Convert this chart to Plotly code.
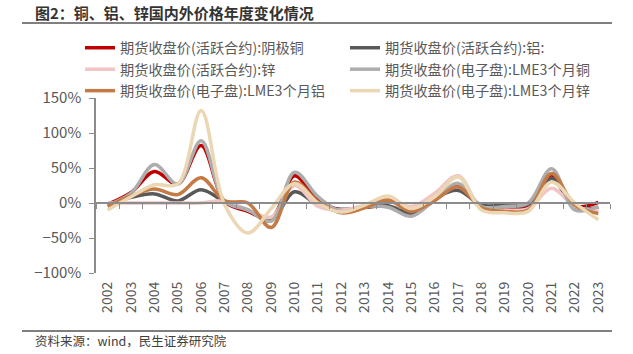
import plotly.graph_objects as go

years = [str(y) for y in range(2002, 2024)]

names = [
    "期货收盘价(活跃合约):阴极铜",
    "期货收盘价(活跃合约):铝:",
    "期货收盘价(活跃合约):锌",
    "期货收盘价(电子盘):LME3个月铜",
    "期货收盘价(电子盘):LME3个月铝",
    "期货收盘价(电子盘):LME3个月锌",
]

shfe_cu = [-2, 15, 45, 27, 82, 2, -12, -22, 39, 4, -10, -6, -5, -17, 4, 25, -5, -9, -5, 40, -4, 1]
shfe_al = [-3, 8, 13, 3, 19, 2, -10, -24, 16, -3, -9, -6, -4, -14, 7, 18, -3, -3, -2, 35, -7, -6]
shfe_zn = [0, 0, 0, 0, 0, 3, -10, -20, 25, -5, -10, -3, 5, -5, 14, 39, -8, -10, -8, 21, -5, -10]
lme_cu = [-3, 14, 55, 27, 89, 3, -10, -26, 44, 9, -12, -5, -6, -19, 5, 28, -5, -5, 0, 49, -10, -5]
lme_al = [-5, 10, 20, 12, 36, 3, 0, -35, 30, 2, -14, -7, 4, -12, 4, 23, -7, -12, -10, 42, -3, -15]
lme_zn = [-10, 9, 26, 27, 132, -2, -43, -8, 28, 0, -13, -3, 10, -8, 9, 37, -10, -14, -12, 30, 0, -24]

series = [shfe_cu, shfe_al, shfe_zn, lme_cu, lme_al, lme_zn]
colors = ["#C00000", "#595959", "#F2C4C4", "#ADADAD", "#C47A45", "#EBD7B4"]
legends = ["legend", "legend2", "legend", "legend2", "legend", "legend2"]

FONT = "Noto Sans CJK SC"
TXT = "#595959"

fig = go.Figure()
for name, vals, col, lg in zip(names, series, colors, legends):
    fig.add_trace(go.Scatter(
        x=years, y=vals, name=name, mode="lines",
        line=dict(color=col, width=3.5, shape="spline", smoothing=1.0),
        legend=lg,
    ))

# helper trace so the zero-line axis (xaxis2) is drawn
fig.add_trace(go.Scatter(x=years, y=[None] * len(years), xaxis="x2",
                         showlegend=False, hoverinfo="skip", mode="lines"))

W, H = 633, 354
L, R, T, B = 96, 23, 98, 81

fig.update_layout(
    width=W, height=H,
    margin=dict(l=L, r=R, t=T, b=B, autoexpand=False),
    paper_bgcolor="white", plot_bgcolor="white",
    font=dict(family=FONT, color=TXT, size=14),
    showlegend=True,
    title=dict(
        text="<b>图2：铜、铝、锌国内外价格年度变化情况</b>",
        x=35 / W, xref="container", xanchor="left",
        y=1 - 14 / H, yref="container", yanchor="middle",
        font=dict(family=FONT, size=15, color="#333333"),
    ),
    legend=dict(
        xref="container", yref="container",
        x=80 / W, y=1 - 32 / H, xanchor="left", yanchor="top",
        orientation="v", font=dict(size=14.2, color=TXT),
        bgcolor="rgba(0,0,0,0)", tracegroupgap=0,
    ),
    legend2=dict(
        xref="container", yref="container",
        x=345 / W, y=1 - 32 / H, xanchor="left", yanchor="top",
        orientation="v", font=dict(size=14.2, color=TXT),
        bgcolor="rgba(0,0,0,0)", tracegroupgap=0,
    ),
    xaxis=dict(
        type="category", range=[-0.5, 21.5],
        showline=False, showgrid=False, zeroline=False,
        ticks="", tickangle=-90, ticklabelstandoff=5,
        tickfont=dict(size=14, color=TXT),
    ),
    xaxis2=dict(
        type="category", overlaying="x", anchor="free", position=0.4,
        range=[-0.5, 21.5], tickson="boundaries",
        showline=True, linecolor="#8C8C8C", linewidth=1.5,
        ticks="outside", ticklen=5, tickcolor="#8C8C8C", tickwidth=1.2,
        showticklabels=False, showgrid=False, zeroline=False,
    ),
    yaxis=dict(
        range=[-100, 150], dtick=50, ticksuffix="%",
        showline=True, linecolor="#8C8C8C", linewidth=1.5,
        ticks="outside", ticklen=5, tickcolor="#8C8C8C", tickwidth=1.2,
        showgrid=False, zeroline=False, ticklabelstandoff=5,
        tickfont=dict(size=15, color=TXT),
    ),
)

pw = W - L - R
ph = H - T - B
def px(x):
    return (x - L) / pw
def py(y):
    return (H - B - y) / ph

fig.add_shape(type="line", xref="paper", yref="paper",
              x0=px(22), x1=px(612), y0=py(23), y1=py(23),
              line=dict(color="#555555", width=1.5))
fig.add_shape(type="line", xref="paper", yref="paper",
              x0=px(22), x1=px(612), y0=py(331), y1=py(331),
              line=dict(color="#555555", width=1.5))

fig.add_annotation(text="资料来源：wind，民生证券研究院", xref="paper", yref="paper",
                   x=px(33), y=py(340), xanchor="left", yanchor="middle",
                   showarrow=False, font=dict(family=FONT, size=12.5, color="#404040"))

fig.write_html("out.html")
